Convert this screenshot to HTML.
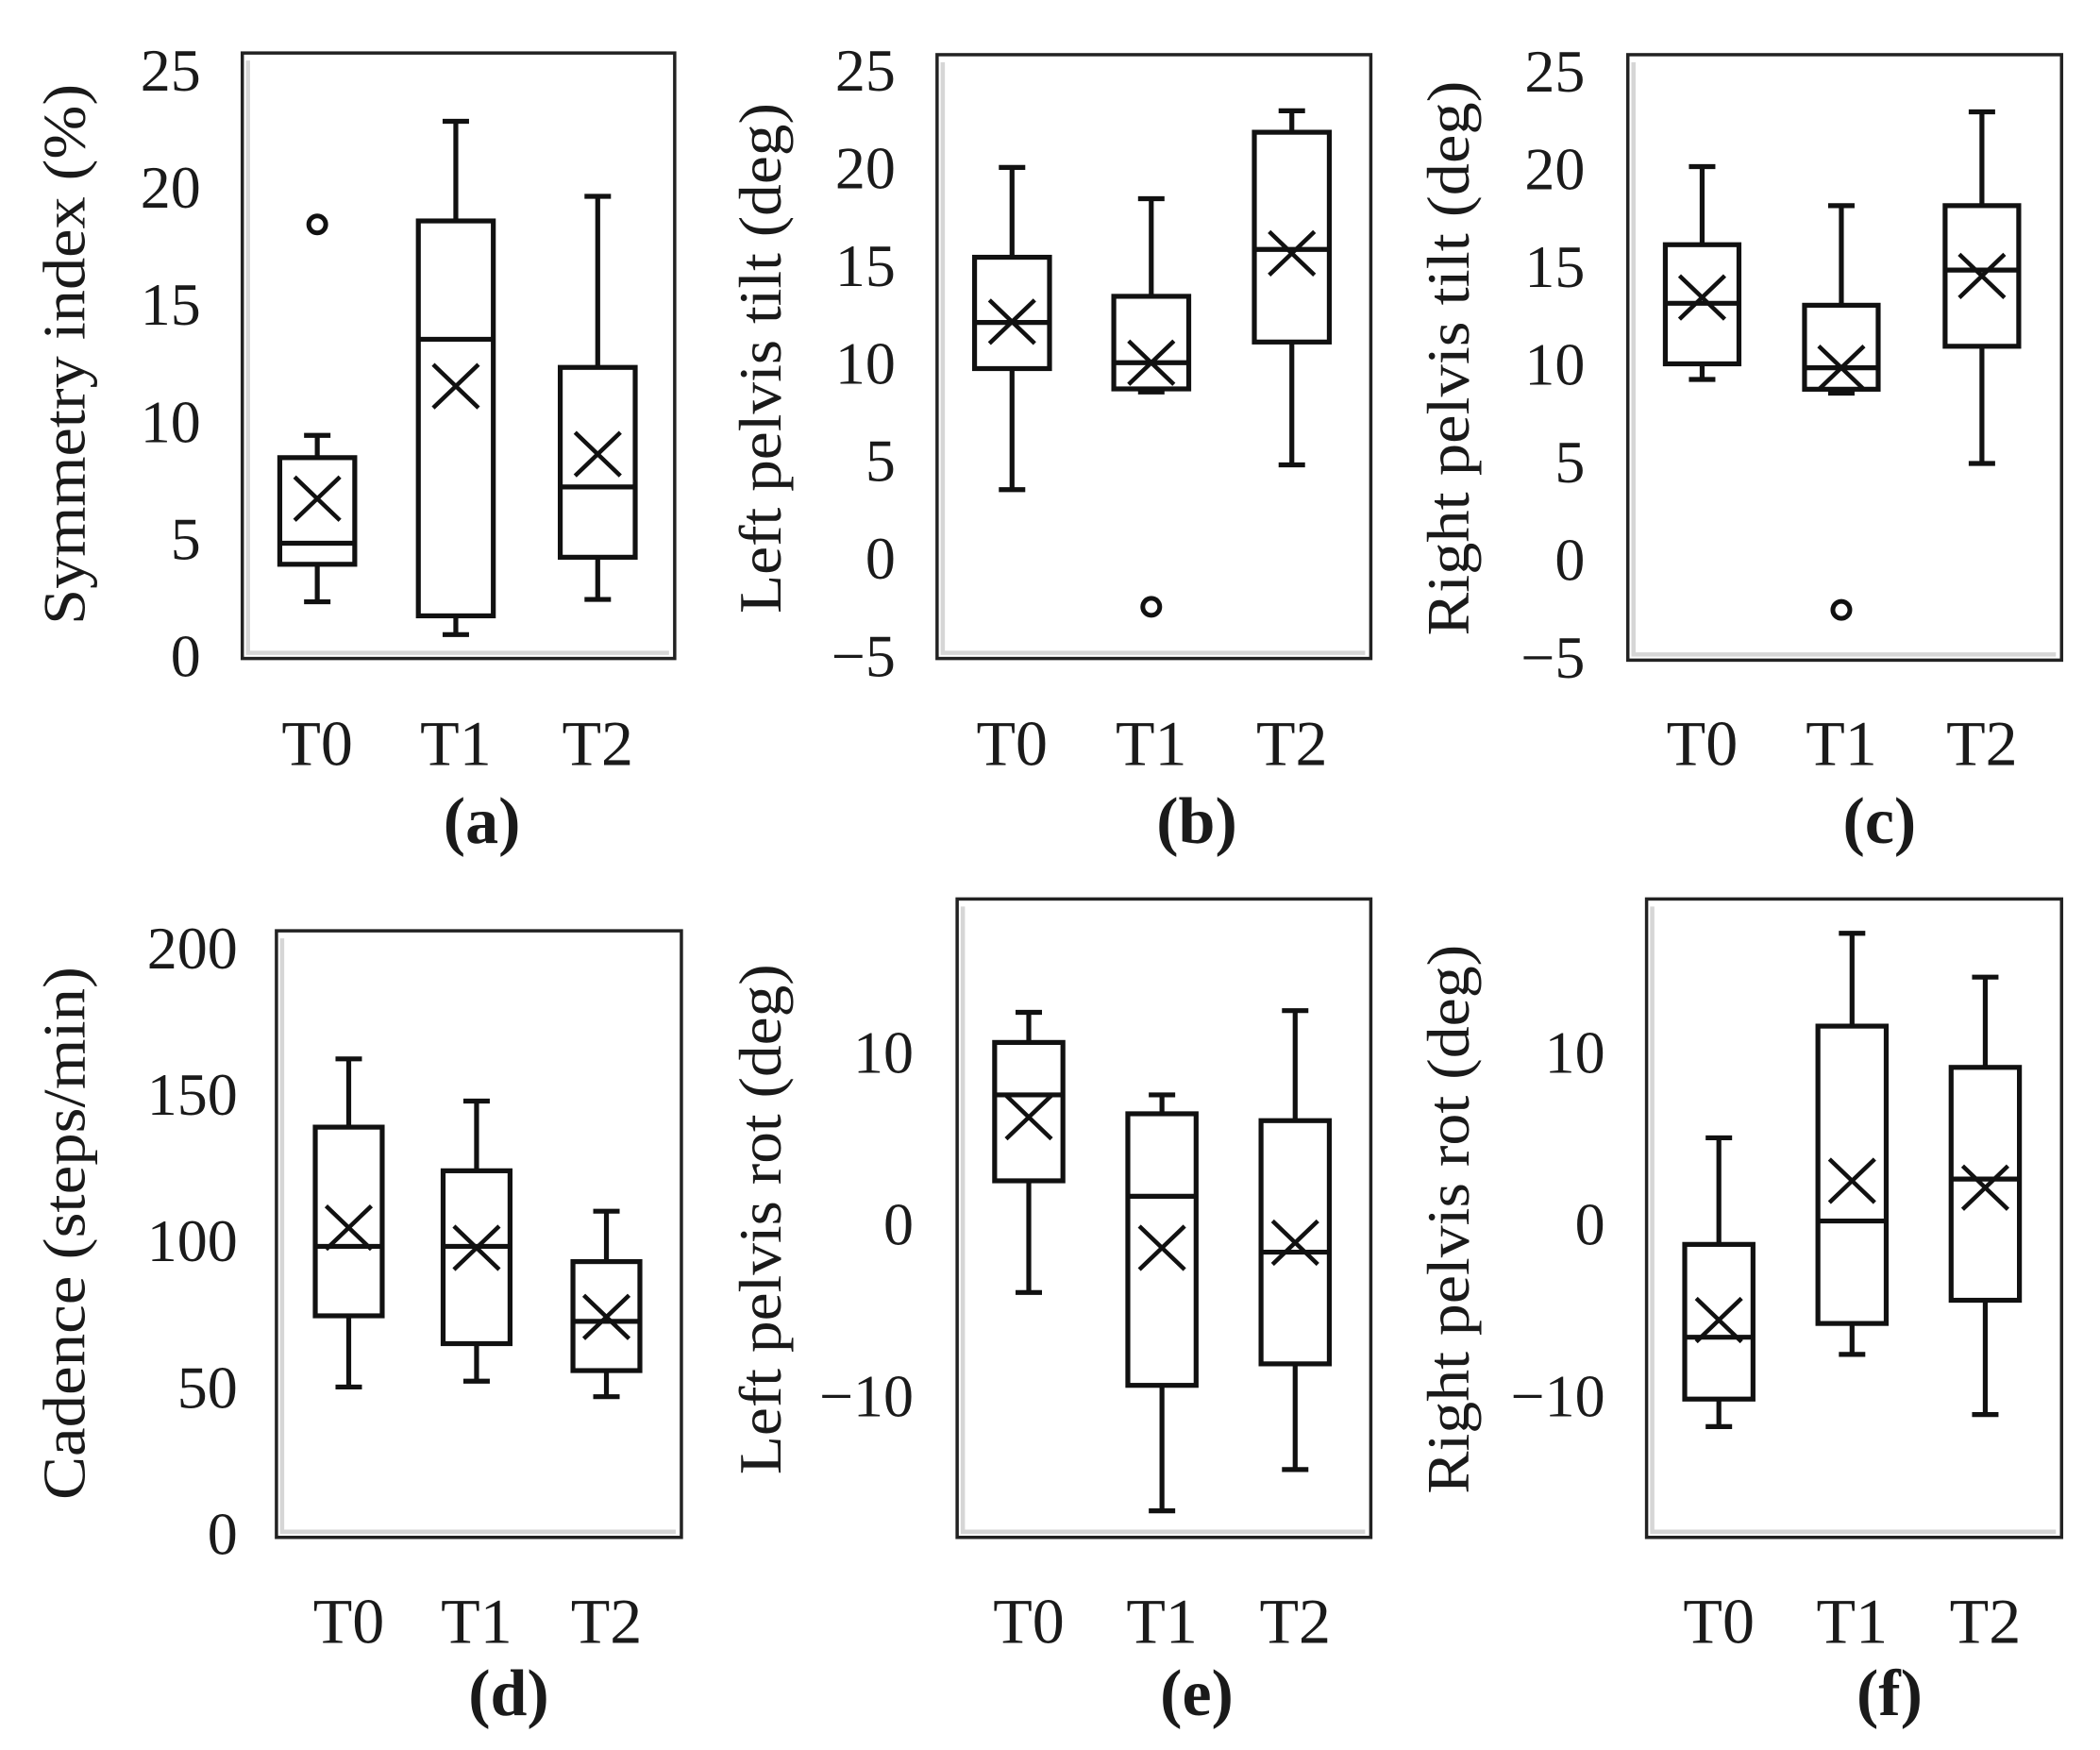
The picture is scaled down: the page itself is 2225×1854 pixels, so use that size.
<!DOCTYPE html>
<html><head><meta charset="utf-8">
<style>html,body{margin:0;padding:0;background:#fff}svg{display:block}</style></head>
<body>
<svg id="fig" width="2225" height="1854" viewBox="0 0 2225 1854" xmlns="http://www.w3.org/2000/svg" font-family="'Liberation Serif', serif"></svg>
<script>
const categories = ["T0","T1","T2"];
// each: [low whisker, Q1, median, Q3, high whisker, mean]
const statsA = [[2.3,3.9,4.8,8.45,9.4,6.7],[0.9,1.7,13.5,18.55,22.8,11.5],[2.4,4.2,7.2,12.3,19.6,8.6]];
const outliersA = [[18.4],[],[]];
const statsB = [[3.5,9.7,12.06,15.4,20,12.1],[8.5,8.66,10,13.4,18.4,10],[4.77,11.06,15.8,21.8,22.9,15.6]];
const outliersB = [[],[-2.5],[]];
const statsC = [[9.2,10,13.1,16.1,20.1,13.4],[8.5,8.7,9.8,13,18.1,9.8],[4.9,10.9,14.8,18.1,22.9,14.5]];
const outliersC = [[],[-2.6],[]];
const statsD = [[50,74.3,98,138.7,162,104.4],[52,64.8,98,123.8,147.6,97.5],[46.7,55.6,72.4,92.8,110,73.9]];
const outliersD = [[],[],[]];
const statsE = [[-4,2.5,7.5,10.55,12.3,6.2],[-16.7,-9.4,1.6,6.4,7.5,-1.4],[-14.3,-8.15,-1.65,6.0,12.4,-1.1]];
const outliersE = [[],[],[]];
const statsF = [[-11.8,-10.2,-6.6,-1.2,5.0,-5.6],[-7.6,-5.8,0.16,11.5,16.9,2.5],[-11.1,-4.45,2.6,9.1,14.35,2.1]];
const outliersF = [[],[],[]];
const ticksAB = ["25","20","15","10","5","0"];
const ticksBC = ["25","20","15","10","5","0","\u22125"];
const ticksD = ["200","150","100","50","0"];
const ticksEF = ["10","0","\u221210"];

const NS="http://www.w3.org/2000/svg";
const svg=document.getElementById('fig');
function mk(tag,attrs,parent){const e=document.createElementNS(NS,tag);for(const k in attrs)e.setAttribute(k,attrs[k]);(parent||svg).appendChild(e);return e;}
const SX=1112/1568, SY=927/1568;

const panels=[
 {id:'a',stats:statsA,out:outliersA,ticks:ticksAB,tickVals:[25,20,15,10,5,0],frame:[362,95,1008,1180],y0:1175,ppu:42,cx:[474,681,893],bw:112,label:"Symmetry index (%)",lx:95,lright:300,lw:573,lc:635,letter:"(a)",letx:720,cy:1330,ly:1470,row:0},
 {id:'b',stats:statsB,out:outliersB,ticks:ticksBC,tickVals:[25,20,15,10,5,0,-5],frame:[1400,98,2048,1180],y0:1000,ppu:35,cx:[1512,1720,1930],bw:112,label:"Left pelvis tilt (deg)",lx:1135,lright:1338,lw:541,lc:642,letter:"(b)",letx:1788,cy:1330,ly:1470,row:0},
 {id:'c',stats:statsC,out:outliersC,ticks:ticksBC,tickVals:[25,20,15,10,5,0,-5],frame:[2432,98,3080,1183],y0:1002,ppu:35,cx:[2543,2751,2961],bw:110,label:"Right pelvis tilt (deg)",lx:2163,lright:2368,lw:588,lc:642,letter:"(c)",letx:2808,cy:1330,ly:1470,row:0},
 {id:'d',stats:statsD,out:outliersD,ticks:ticksD,tickVals:[200,150,100,50,0],frame:[413,100,1018,1187],y0:1180,ppu:5.25,cx:[521,712,906],bw:100,label:"Cadence (steps/min)",lx:95,lright:355,lw:565,lc:642,letter:"(d)",letx:760,cy:1335,ly:1465,row:1},
 {id:'e',stats:statsE,out:outliersE,ticks:ticksEF,tickVals:[10,0,-10],frame:[1430,43,2048,1187],y0:625,ppu:30.8,cx:[1537,1736,1935],bw:102,label:"Left pelvis rot (deg)",lx:1135,lright:1365,lw:541,lc:617,letter:"(e)",letx:1788,cy:1335,ly:1465,row:1},
 {id:'f',stats:statsF,out:outliersF,ticks:ticksEF,tickVals:[10,0,-10],frame:[2460,43,3080,1187],y0:625,ppu:30.8,cx:[2568,2767,2966],bw:102,label:"Right pelvis rot (deg)",lx:2163,lright:2398,lw:582,lc:617,letter:"(f)",letx:2823,cy:1335,ly:1465,row:1}
];

panels.forEach(p=>{
 const g=mk('g',{});
 
 
 const o=p.row*927;
 const X=zx=>zx*SX;
 const Yz=zy=>zy*SY+o;
 const y=v=>Yz(p.y0-v*p.ppu);
 const x1=X(p.frame[0]),y1=Yz(p.frame[1]),x2=X(p.frame[2]),y2=Yz(p.frame[3]);
 const sh=mk('path',{d:`M${x1+6} ${y1+8} V${y2-6} H${x2-6}`,fill:'none',stroke:'#d6d6d6','stroke-width':4.5},g);
 
 
 const fr=mk('rect',{x:x1,y:y1,width:x2-x1,height:y2-y1,fill:'none',stroke:'#222','stroke-width':3.5},g);
 
 
 p.ticks.forEach((t,i)=>{
  const tx=mk('text',{x:X(p.lright),y:y(p.tickVals[i])+22,'text-anchor':'end','font-size':64,fill:'#1a1a1a'},g);
  tx.textContent=t;
  
  
 });
 const lxo=X(p.lx)+22, lyo=Yz(p.lc);
 const yl=mk('text',{x:lxo,y:lyo,'text-anchor':'middle','font-size':64,fill:'#1a1a1a',textLength:p.lw,lengthAdjust:'spacingAndGlyphs',transform:`rotate(-90 ${lxo} ${lyo})`},g);
 yl.textContent=p.label;
 
 
 categories.forEach((c,i)=>{
  const cx=X(p.cx[i]), s=p.stats[i], hw=X(p.bw)/2;
  const bg=mk('g',{stroke:'#111','stroke-width':5.2,fill:'none'},g);
  
  
  mk('line',{x1:cx,x2:cx,y1:y(s[0]),y2:y(s[1])},bg);
  mk('line',{x1:cx,x2:cx,y1:y(s[3]),y2:y(s[4])},bg);
  mk('line',{x1:cx-14,x2:cx+14,y1:y(s[0]),y2:y(s[0])},bg);
  mk('line',{x1:cx-14,x2:cx+14,y1:y(s[4]),y2:y(s[4])},bg);
  mk('rect',{x:cx-hw,y:y(s[3]),width:2*hw,height:y(s[1])-y(s[3])},bg);
  mk('line',{x1:cx-hw,x2:cx+hw,y1:y(s[2]),y2:y(s[2])},bg);
  const m=y(s[5]);
  mk('path',{d:`M${cx-24} ${m-23} L${cx+24} ${m+23} M${cx+24} ${m-23} L${cx-24} ${m+23}`,'stroke-width':4.5},bg);
  p.out[i].forEach(v=>{
   const oc=mk('circle',{cx:cx,cy:y(v),r:9,'stroke-width':5},bg);
   
   
  });
  const ct=mk('text',{x:cx,y:Yz(p.cy)+24,'text-anchor':'middle','font-size':68,fill:'#1a1a1a'},g);
  ct.textContent=c;
  
  
 });
 const lt=mk('text',{x:X(p.letx),y:Yz(p.ly)+24,'text-anchor':'middle','font-size':70,'font-weight':'bold',fill:'#1a1a1a'},g);
 lt.textContent=p.letter;
 
 
});
</script>
</body></html>
